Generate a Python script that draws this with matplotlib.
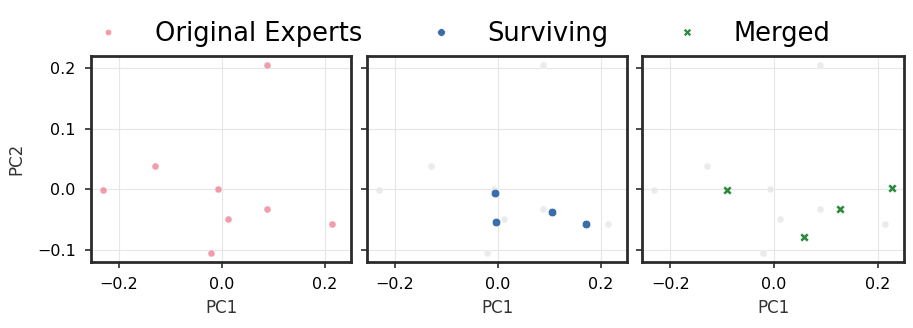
import matplotlib
matplotlib.use("Agg")
import matplotlib.pyplot as plt
from matplotlib.lines import Line2D

# Data
orig_x = [0.088, -0.130, -0.2315, -0.007, 0.0117, 0.088, 0.214, -0.021]
orig_y = [0.205, 0.038, -0.001, 0.001, -0.049, -0.032, -0.057, -0.105]
surv_x = [-0.006, -0.003, 0.106, 0.171]
surv_y = [-0.006, -0.055, -0.038, -0.057]
merg_x = [-0.091, 0.228, 0.127, 0.058]
merg_y = [-0.002, 0.002, -0.033, -0.079]
legend_labels = ["Original Experts", "Surviving", "Merged"]
x_ticks = [-0.2, 0.0, 0.2]
y_ticks = [-0.1, 0.0, 0.1, 0.2]

PINK = "#f08a9b"
BLUE = "#3b6ea8"
GREEN = "#2a8a3c"
GHOST = "#e6e6e6"

W, H = 913, 328
fig = plt.figure(figsize=(W / 100, H / 100), dpi=100)

boxes = [(91, 351), (367, 627), (642, 904)]
top, bottom = 56, 262
axes = []
for i, (l, r) in enumerate(boxes):
    ax = fig.add_axes([l / W, (H - bottom) / H, (r - l) / W, (bottom - top) / H],
                      sharex=axes[0] if axes else None,
                      sharey=axes[0] if axes else None)
    axes.append(ax)

for ax in axes:
    ax.grid(True, color="#e6e6e6", linewidth=0.8, zorder=0)
    ax.set_axisbelow(True)
    for s in ax.spines.values():
        s.set_color("#2b2b2b")
        s.set_linewidth(2.0)
    ax.tick_params(labelsize=11.5, length=4.5, width=1.2, color="#2b2b2b", pad=6.5)
    ax.set_xticks(x_ticks)
    ax.set_yticks(y_ticks)
    ax.set_xlabel("PC1", fontsize=12, color="#333333", labelpad=5)

axes[0].scatter(orig_x, orig_y, s=26, color=PINK, alpha=0.85, edgecolors="white",
                linewidths=0.4, zorder=3)
axes[0].set_ylabel("PC2", fontsize=12, color="#333333", labelpad=8)

axes[1].scatter(orig_x, orig_y, s=26, color=GHOST, alpha=0.8, edgecolors="white",
                linewidths=0.4, zorder=2)
axes[1].scatter(surv_x, surv_y, s=38, color=BLUE, edgecolors="white",
                linewidths=0.4, zorder=3)

axes[2].scatter(orig_x, orig_y, s=26, color=GHOST, alpha=0.8, edgecolors="white",
                linewidths=0.4, zorder=2)
axes[2].scatter(merg_x, merg_y, s=42, color=GREEN, marker="X", edgecolors="white",
                linewidths=0.4, zorder=3)

for ax in axes[1:]:
    ax.tick_params(labelleft=False)

# margins from all data
allx = orig_x + surv_x + merg_x
ally = orig_y + surv_y + merg_y
dx = (max(allx) - min(allx)) * 0.05
dy = (max(ally) - min(ally)) * 0.05
axes[0].set_xlim(min(allx) - dx, max(allx) + dx)
axes[0].set_ylim(min(ally) - dy, max(ally) + dy)

handles = [
    Line2D([], [], linestyle="", marker="o", markersize=4.5, color=PINK, alpha=0.85,
           markeredgecolor="white", markeredgewidth=0.4),
    Line2D([], [], linestyle="", marker="o", markersize=5.5, color=BLUE,
           markeredgecolor="white", markeredgewidth=0.4),
    Line2D([], [], linestyle="", marker="X", markersize=6, color=GREEN,
           markeredgecolor="white", markeredgewidth=0.4),
]
fig.legend(handles, legend_labels, loc="center", bbox_to_anchor=(0.5, 1 - 34 / H),
           ncol=3, frameon=False, fontsize=18.5, handletextpad=0.83, columnspacing=2.03)

fig.savefig("out.png", dpi=100)
